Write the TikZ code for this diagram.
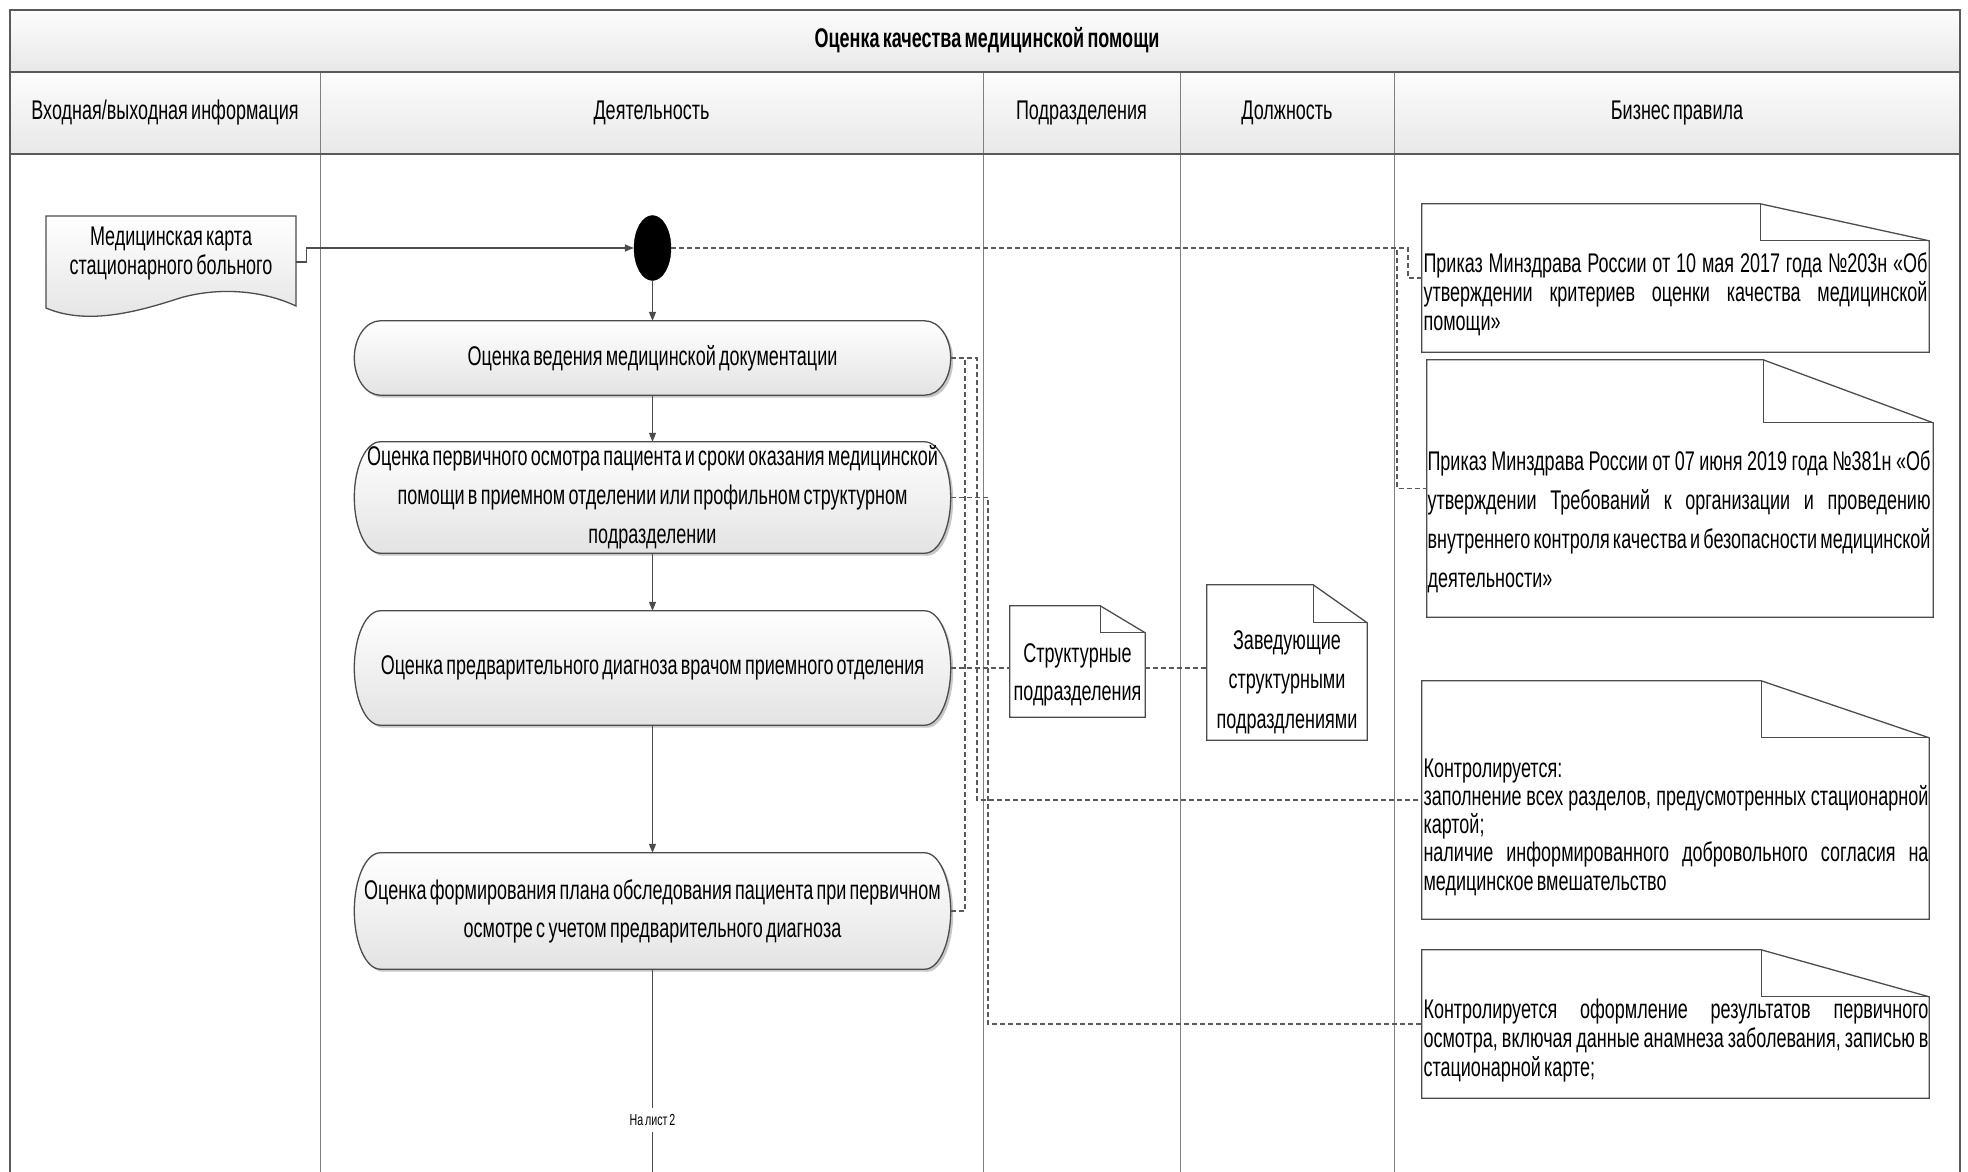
\documentclass[tikz,border=0pt]{standalone}
\usepackage{fontspec}
\setmainfont{Liberation Sans}[FakeStretch=0.667, WordSpace=0.65]
\usetikzlibrary{shapes.geometric,arrows.meta,calc}
\pgfdeclarelayer{bg}
\pgfsetlayers{bg,main}
\hyphenpenalty=10000
\exhyphenpenalty=10000
\newcommand\stadp[2]{%
 \path[#2] ([xshift=26pt]#1.north west) -- ([xshift=-26pt]#1.north east)
  .. controls ([xshift=-11.6pt]#1.north east) and ($(#1.north east)!0.448!(#1.east)$) .. (#1.east)
  .. controls ($(#1.south east)!0.448!(#1.east)$) and ([xshift=-11.6pt]#1.south east) .. ([xshift=-26pt]#1.south east)
  -- ([xshift=26pt]#1.south west)
  .. controls ([xshift=11.6pt]#1.south west) and ($(#1.south west)!0.448!(#1.west)$) .. (#1.west)
  .. controls ($(#1.north west)!0.448!(#1.west)$) and ([xshift=11.6pt]#1.north west) .. cycle;}
\newcommand\stad[1]{%
 \begin{scope}[transform canvas={xshift=2.5pt,yshift=-2.5pt}]\stadp{#1}{fill=black!22}\end{scope}
 \stadp{#1}{actshape}}
\newcommand\notep[3]{%
 \path[noteshape] (#1.north west) -- ([xshift=-#2]#1.north east) -- ([yshift=-#3]#1.north east) -- (#1.south east) -- (#1.south west) -- cycle;
 \draw[noteline] ([xshift=-#2]#1.north east) -- ([xshift=-#2,yshift=-#3]#1.north east) -- ([yshift=-#3]#1.north east);}
\begin{document}
\begin{tikzpicture}[x=1pt,y=-1pt,
 every node/.style={inner sep=0pt, font=\fontsize{27}{29}\selectfont},
 frameln/.style={draw=black!65, line width=1.5pt},
 colln/.style={draw=black!50, line width=1pt},
 flow/.style={draw=black!70, line width=1.3pt},
 arr/.style={flow, -{Triangle[length=9pt,width=7pt]}},
 dsh/.style={draw=black!65, line width=1.1pt, dash pattern=on 5pt off 3pt},
 actshape/.style={draw=black!70, line width=1.3pt, top color=white, bottom color=black!11},
 acttext/.style={minimum width=596pt, align=center},
 noteshape/.style={draw=black!70, line width=1.3pt, fill=white},
 noteline/.style={draw=black!70, line width=1.3pt},
 notetxt/.style={align=justify},
 docshape/.style={draw=black!70, line width=1.3pt, top color=white, bottom color=black!11},
 hdrfill/.style={top color=black!1, bottom color=black!9, draw=none},
]
\useasboundingbox (0,0) rectangle (1968,1172);

% headers
\node (ttl) at (987,40) {\bfseries Оценка качества медицинской помощи};
\node (h1) at (165,113) {Входная/выходная информация};
\node (h2) at (651.5,113) {Деятельность};
\node (h3) at (1081.5,113) {Подразделения};
\node (h4) at (1287,113) {Должность};
\node (h5) at (1677,113) {Бизнес правила};

% input document
\node[minimum width=250pt, minimum height=92pt] (doc) at (171,262) {};
\node[align=center] (doct) at (171,254) {Медицинская карта\\стационарного больного};

% start
\node[ellipse, fill=black, draw=black, minimum width=37pt, minimum height=65pt] (st) at (652.5,248) {};

% activities
\node[acttext, minimum height=74pt] (a1) at (652.5,358) {Оценка ведения медицинской документации};
\node[acttext, minimum height=111pt, font=\fontsize{27}{39}\selectfont] (a2) at (652.5,497.5) {Оценка первичного осмотра пациента и сроки оказания медицинской\\помощи в приемном отделении или профильном структурном\\подразделении};
\node[acttext, minimum height=114pt] (a3) at (652.5,668) {Оценка предварительного диагноза врачом приемного отделения};
\node[acttext, minimum height=116pt, font=\fontsize{27}{38}\selectfont] (a4) at (652.5,911) {Оценка формирования плана обследования пациента при первичном\\осмотре с учетом предварительного диагноза};
\node[font=\fontsize{16}{18}\selectfont, inner sep=6pt] (lbl) at (652.5,1120) {На лист 2};
\coordinate (bot) at (652.5,1172);

% units and positions
\node[minimum width=135pt, minimum height=111pt] (s1) at (1077.5,661.5) {};
\node[align=center, font=\fontsize{27}{38}\selectfont] (s1t) at (1077.5,675) {Структурные\\подразделения};
\node[minimum width=160pt, minimum height=155pt] (s2) at (1287,662.5) {};
\node[align=center, font=\fontsize{27}{39.5}\selectfont] (s2t) at (1287,682) {Заведующие\\структурными\\подраздлениями};

% business rules
\node[minimum width=507pt, minimum height=148pt] (n1) at (1675.5,278) {};
\node[minimum width=506pt, minimum height=257pt] (n2) at (1680,488.5) {};
\node[minimum width=507pt, minimum height=238pt] (n3) at (1675.5,800) {};
\node[minimum width=507pt, minimum height=148pt] (n4) at (1675.5,1024) {};
\node[notetxt, text width=504pt] (t1) at (1675.5,294) {Приказ Минздрава России от 10 мая 2017 года №203н «Об\linebreak утверждении критериев оценки качества медицинской\linebreak помощи»};
\node[notetxt, text width=503pt, font=\fontsize{27}{39}\selectfont] (t2) at (1679,522) {Приказ Минздрава России от 07 июня 2019 года №381н «Об\linebreak утверждении Требований к организации и проведению\linebreak внутреннего контроля качества и безопасности медицинской\linebreak деятельности»};
\node[notetxt, text width=505pt, font=\fontsize{27}{28.3}\selectfont] (t3) at (1676,827) {Контролируется:\\заполнение всех разделов, предусмотренных стационарной\linebreak картой;\\наличие информированного добровольного согласия на\linebreak медицинское вмешательство};
\node[notetxt, text width=505pt] (t4) at (1676,1041) {Контролируется оформление результатов первичного\linebreak осмотра, включая данные анамнеза заболевания, записью в\linebreak стационарной карте;};

% flow
\draw[arr] (doc.east) -- ++(10,0) |- (st.west);
\draw[arr] (st.south) -- (a1.north);
\draw[arr] (a1.south) -- (a2.north);
\draw[arr] (a2.south) -- (a3.north);
\draw[arr] (a3.south) -- (a4.north);
\draw[flow] (a4.south) -- (lbl.north);
\draw[flow] (lbl.south) -- (bot);

% dashed associations
\coordinate (j1) at (1408,0);
\coordinate (j2) at (1397,0);
\coordinate (v1) at (965,0);
\coordinate (v2) at (977,0);
\coordinate (v3) at (988,0);
\draw[dsh] (st.east) -- (st.east -| j1) -- (j1 |- n1.west) -- (n1.west);
\draw[dsh] (st.east) -- (st.east -| j2) -- (j2 |- n2.west) -- (n2.west);
\draw[dsh] (a1.east) -- (a1.east -| v2) -- (v2 |- n3.west) -- (n3.west);
\draw[dsh] (a4.east) -- (a4.east -| v1) -- (v1 |- a1.east);
\draw[dsh] (a2.east) -- (a2.east -| v3) -- (v3 |- n4.west) -- (n4.west);
\draw[dsh] (a3.east) -- (a3.east -| s1.west);
\draw[dsh] (a3.east -| s1.east) -- (a3.east -| s2.west);

\begin{pgfonlayer}{bg}
\fill[white] (0,0) rectangle (1968,1172);
\path[hdrfill] (10,10) rectangle (1960,72);
\path[hdrfill] (10,72) rectangle (1960,154);
\foreach \cx in {320,983,1180,1394} \draw[colln] (\cx,72) -- (\cx,1172);
\draw[frameln] (10,1172) -- (10,10) -- (1960,10) -- (1960,1172);
\draw[frameln] (10,72) -- (1960,72);
\draw[frameln] (10,154) -- (1960,154);
\path[docshape] (46,216) -- (296,216) -- (296,306) .. controls (262,290) and (218,287) .. (180,298) .. controls (140,311) and (88,326) .. (46,308) -- cycle;
\stad{a1}
\stad{a2}
\stad{a3}
\stad{a4}
\notep{s1}{45pt}{27pt}
\notep{s2}{54pt}{38pt}
\notep{n1}{169pt}{37pt}
\notep{n2}{170pt}{63pt}
\notep{n3}{168pt}{57pt}
\notep{n4}{168pt}{47pt}
\end{pgfonlayer}
\end{tikzpicture}
\end{document}
